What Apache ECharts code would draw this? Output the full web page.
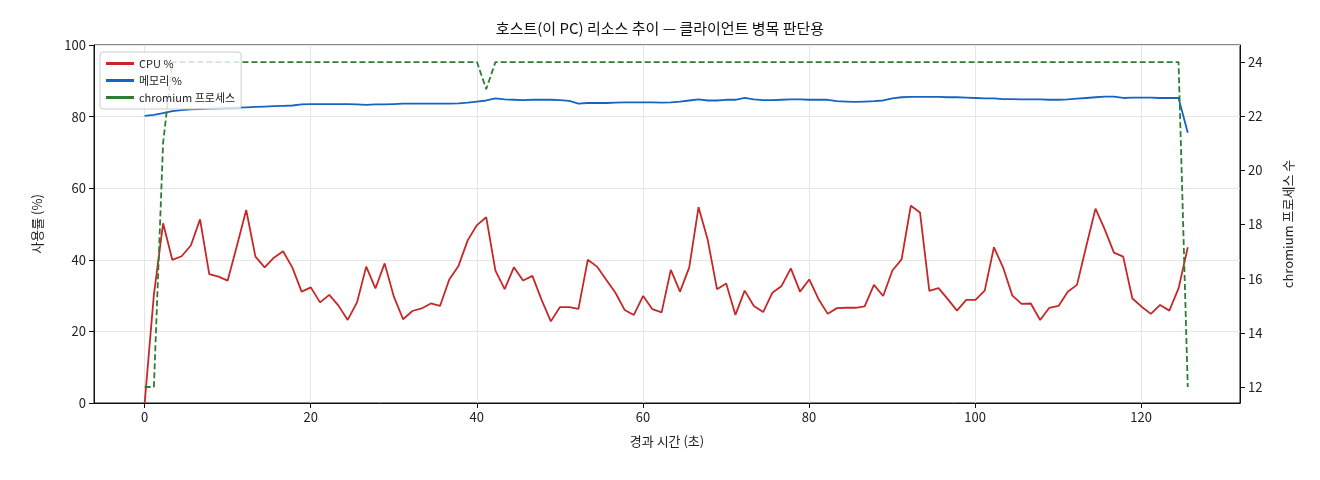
<!DOCTYPE html>
<html><head><meta charset="utf-8">
<script src="https://cdn.jsdelivr.net/npm/echarts@6/dist/echarts.min.js"></script>
<style>html,body{margin:0;background:#fff}#c{width:1320px;height:480px}</style>
</head><body><div id="c"></div>
<script>
const times = [0,1.11,2.22,3.33,4.45,5.56,6.67,7.78,8.89,10,11.12,12.23,13.34,14.45,15.56,16.67,17.79,18.9,20.01,21.12,22.23,23.34,24.45,25.57,26.68,27.79,28.9,30.01,31.12,32.24,33.35,34.46,35.57,36.68,37.79,38.91,40.02,41.13,42.24,43.35,44.46,45.57,46.69,47.8,48.91,50.02,51.13,52.24,53.36,54.47,55.58,56.69,57.8,58.91,60.03,61.14,62.25,63.36,64.47,65.58,66.7,67.81,68.92,70.03,71.14,72.25,73.36,74.48,75.59,76.7,77.81,78.92,80.03,81.15,82.26,83.37,84.48,85.59,86.7,87.82,88.93,90.04,91.15,92.26,93.37,94.49,95.6,96.71,97.82,98.93,100.04,101.16,102.27,103.38,104.49,105.6,106.71,107.83,108.94,110.05,111.16,112.27,113.38,114.5,115.61,116.72,117.83,118.94,120.05,121.17,122.28,123.39,124.5,125.61];
const cpu = [0,30.2,50.2,40,41,44,51.3,36,35.3,34.2,44,53.9,40.9,37.9,40.6,42.4,37.8,31.1,32.3,28.1,30.2,27.2,23.2,28.1,38.1,32,39,29.7,23.4,25.7,26.4,27.8,27.1,34.5,38.3,45.5,49.7,51.9,37,31.8,37.9,34.2,35.5,28.8,22.8,26.8,26.8,26.3,40,38.1,34.4,30.8,26,24.6,29.9,26.2,25.3,37.2,31.1,37.9,54.7,45.5,31.8,33.4,24.6,31.4,27.1,25.4,30.8,32.7,37.6,31.1,34.5,29,24.9,26.5,26.6,26.6,27,33,29.9,37,40.1,55.1,53.2,31.3,32.1,29,25.8,28.8,28.8,31.4,43.5,37.8,30,27.7,27.8,23.2,26.6,27.1,31.1,33,43.7,54.3,48.5,42,40.9,29.2,26.9,24.9,27.4,25.8,32,43.5];
const mem = [80.2,80.5,81,81.5,81.8,82,82.1,82.2,82.3,82.4,82.5,82.6,82.7,82.8,82.9,83,83.1,83.4,83.5,83.5,83.5,83.5,83.5,83.4,83.3,83.4,83.4,83.5,83.6,83.6,83.6,83.6,83.6,83.6,83.7,83.9,84.2,84.5,85.1,84.8,84.7,84.6,84.7,84.7,84.7,84.6,84.4,83.6,83.8,83.8,83.8,83.9,84,84,84,84,83.9,84,84.2,84.5,84.8,84.5,84.5,84.7,84.7,85.2,84.8,84.6,84.6,84.7,84.8,84.8,84.7,84.7,84.7,84.3,84.2,84.1,84.2,84.3,84.5,85.1,85.4,85.5,85.5,85.5,85.5,85.4,85.4,85.3,85.2,85.1,85.1,84.9,84.9,84.8,84.8,84.8,84.7,84.7,84.8,85,85.2,85.4,85.6,85.6,85.2,85.3,85.3,85.3,85.2,85.2,85.2,75.5];
const procs = [12,12,21,24,24,24,24,24,24,24,24,24,24,24,24,24,24,24,24,24,24,24,24,24,24,24,24,24,24,24,24,24,24,24,24,24,24,23,24,24,24,24,24,24,24,24,24,24,24,24,24,24,24,24,24,24,24,24,24,24,24,24,24,24,24,24,24,24,24,24,24,24,24,24,24,24,24,24,24,24,24,24,24,24,24,24,24,24,24,24,24,24,24,24,24,24,24,24,24,24,24,24,24,24,24,24,24,24,24,24,24,24,24,12];
const xTicks = [0,20,40,60,80,100,120];
const yRightTicks = [12,14,16,18,20,22,24];
const names = ['CPU %','메모리 %','chromium 프로세스'];

const pair = (a) => a.map((v,i)=>[times[i],v]);
const F = '"Noto Sans CJK KR","Noto Sans",sans-serif';
const chart = echarts.init(document.getElementById('c'));
chart.setOption({
  animation:false,
  textStyle:{fontFamily:F},
  title:{text:'호스트(이 PC) 리소스 추이 — 클라이언트 병목 판단용',left:'center',top:16,textStyle:{fontSize:15,fontWeight:'normal',color:'#111',fontFamily:F}},
  grid:{left:94,right:80,top:45,bottom:77,show:true,borderColor:'#111',borderWidth:1,backgroundColor:'transparent'},
  legend:{left:100,top:52,orient:'vertical',itemGap:6,itemWidth:28,itemHeight:3,icon:'rect',
    backgroundColor:'rgba(255,255,255,0.8)',borderColor:'#ccc',borderWidth:1,borderRadius:3,padding:[6,6,6,6],
    textStyle:{fontSize:11,color:'#222'},data:names},
  xAxis:{type:'value',min:-6.1,max:131.9,name:'경과 시간 (초)',nameLocation:'middle',nameGap:32,
    nameTextStyle:{fontSize:13,color:'#222'},
    axisLine:{show:true,onZero:false,lineStyle:{color:'#111'}},
    axisTick:{show:true,customValues:xTicks,length:5,lineStyle:{color:'#111'}},
    axisLabel:{customValues:xTicks,fontSize:13,color:'#222',margin:8},
    splitLine:{show:true,lineStyle:{color:'#e6e6e6'}}},
  yAxis:[
    {type:'value',min:0,max:100,interval:20,name:'사용률 (%)',nameLocation:'middle',nameGap:50,
     nameTextStyle:{fontSize:13,color:'#222'},
     axisLine:{show:true,onZero:false,lineStyle:{color:'#111'}},axisTick:{show:true,length:5},
     axisLabel:{fontSize:13,color:'#222'},splitLine:{show:true,lineStyle:{color:'#e6e6e6'}}},
    {type:'value',min:11.41,max:24.63,position:'right',name:'chromium 프로세스 수',nameLocation:'middle',nameGap:42,nameRotate:90,
     nameTextStyle:{fontSize:13,color:'#222'},
     axisLine:{show:true,onZero:false,lineStyle:{color:'#111'}},
     axisTick:{show:true,customValues:yRightTicks,length:5,lineStyle:{color:'#111'}},
     axisLabel:{customValues:yRightTicks,fontSize:13,color:'#222'},splitLine:{show:false}}
  ],
  series:[
    {name:names[0],type:'line',data:pair(cpu),showSymbol:false,lineStyle:{color:'#c62828',width:1.8},itemStyle:{color:'#c62828'}},
    {name:names[1],type:'line',data:pair(mem),showSymbol:false,lineStyle:{color:'#1565c0',width:1.8},itemStyle:{color:'#1565c0'}},
    {name:names[2],type:'line',yAxisIndex:1,data:pair(procs),showSymbol:false,lineStyle:{color:'#2e7d32',width:1.8,type:[6,3]},itemStyle:{color:'#2e7d32'}}
  ]
});
</script></body></html>
